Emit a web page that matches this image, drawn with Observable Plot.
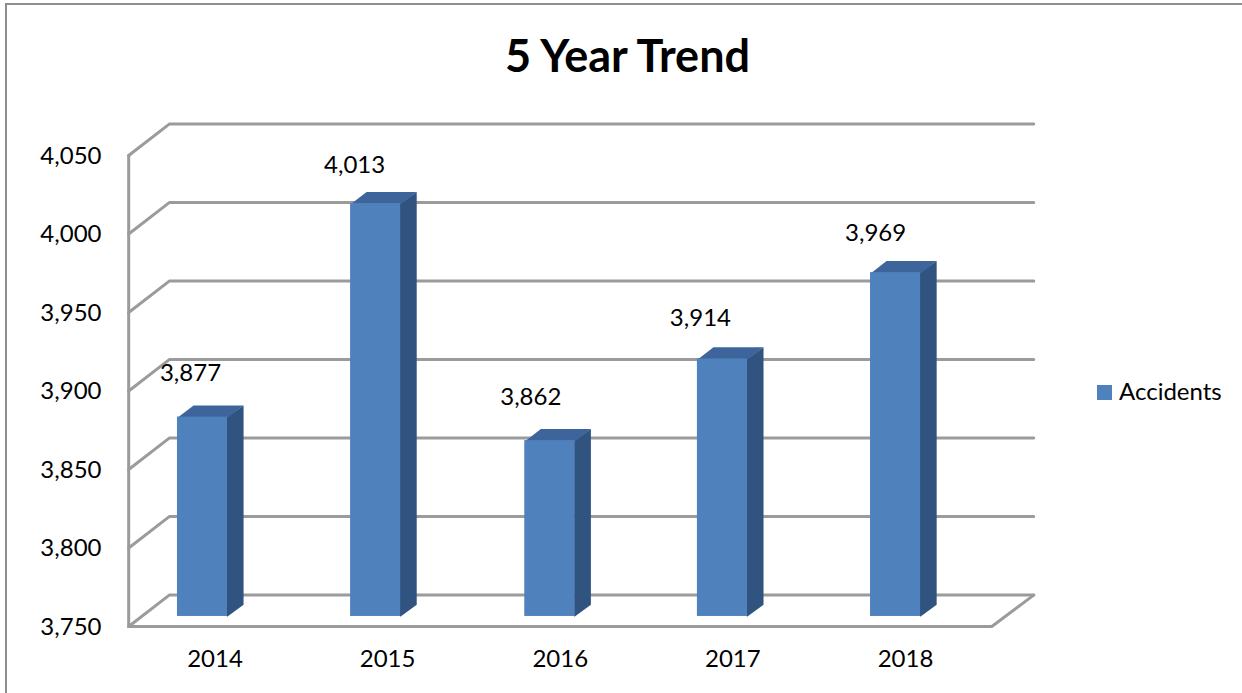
<!DOCTYPE html>
<html>
<head>
<meta charset="utf-8">
<script src="https://cdn.jsdelivr.net/npm/d3@7"></script>
<script src="https://cdn.jsdelivr.net/npm/@observablehq/plot@0.6"></script>
<style>
  html, body { margin: 0; padding: 0; background: #fff; overflow: hidden; }
  #page { position: relative; width: 1242px; height: 693px; font-family: Lato, sans-serif; color: #000; }
  #border { position: absolute; left: 5px; top: 3px; right: -4px; bottom: -4px; border-left: 2px solid #8e8e8e; border-top: 2px solid #8e8e8e; }
  #title { position: absolute; left: 0; width: 1255px; top: 28px; text-align: center; font-size: 45px; line-height: 54px; font-weight: 700; }
  #legend { position: absolute; left: 1097px; top: 379px; height: 26px; display: flex; align-items: center; font-size: 24px; white-space: nowrap; }
  #legend i { display: block; width: 15px; height: 15px; background: #4f81bd; margin-right: 7px; }
  #legend span { position: relative; top: -2px; }
  svg { position: absolute; left: 0; top: 0; background: transparent; }
</style>
</head>
<body>
<div id="page">
  <div id="border"></div>
  <div id="chart"></div>
  <div id="title">5 Year Trend</div>
  <div id="legend"><i></i><span>Accidents</span></div>
</div>
<script>
const years = [2014, 2015, 2016, 2017, 2018];
const accidents = [3877, 4013, 3862, 3914, 3969];
const yTicks = [3750, 3800, 3850, 3900, 3950, 4000, 4050];
const labelDx = [-12, -21, -19, -22, -20];
const labelDy = [-44, -38, -43, -41, -39];
const barNudge = [0, 0.003, 0.012, 0.012, 0.015];

// Projection of the pseudo-3D box, expressed in scale units
const wallStart = 2013.5, wallEnd = 2018.5;
const wallDepthX = 0.235, wallDepthY = 20;
const barHalf = 0.145, barShift = -0.0725, barLift = 6.4;
const barDepthX = 0.093, barDepthY = 7.4;
const overlapX = 0.004, overlapY = 0.5;

const gridPaths = yTicks.flatMap(v => [
  {v, x: wallStart, y: v},
  {v, x: wallStart + wallDepthX, y: v + wallDepthY},
  {v, x: wallEnd + wallDepthX + 0.008, y: v + wallDepthY}
]);
const floorPath = [
  {x: wallStart, y: 3750}, {x: wallEnd, y: 3750},
  {x: wallEnd + wallDepthX + 0.008, y: 3750 + wallDepthY}
];
const wallPath = [{x: wallStart, y: 3750}, {x: wallStart, y: 4050}];

const bars = years.map((year, i) => ({
  year, value: accidents[i],
  x1: year + barShift + barNudge[i] - barHalf, x2: year + barShift + barNudge[i] + barHalf,
  y1: 3750 + barLift, y2: accidents[i] + barLift
}));
const sides = bars.flatMap(b => [
  {year: b.year, x: b.x2 - overlapX, y: b.y1},
  {year: b.year, x: b.x2, y: b.y1},
  {year: b.year, x: b.x2 + barDepthX, y: b.y1 + barDepthY},
  {year: b.year, x: b.x2 + barDepthX, y: b.y2 + barDepthY},
  {year: b.year, x: b.x2, y: b.y2},
  {year: b.year, x: b.x2 - overlapX, y: b.y2}
]);
const tops = bars.flatMap(b => [
  {year: b.year, x: b.x1, y: b.y2 - overlapY},
  {year: b.year, x: b.x2, y: b.y2 - overlapY},
  {year: b.year, x: b.x2 + barDepthX, y: b.y2 + barDepthY},
  {year: b.year, x: b.x1 + barDepthX, y: b.y2 + barDepthY}
]);

const gridStyle = {stroke: "#9b9b9b", strokeWidth: 3, curve: "linear", strokeLinejoin: "miter"};

const chart = Plot.plot({
  width: 1242,
  height: 693,
  marginLeft: 127,
  marginRight: 0,
  marginTop: 0,
  marginBottom: 67,
  style: {fontFamily: "Lato, sans-serif", background: "transparent", overflow: "visible"},
  x: {domain: [2014, 2018], range: [214.5, 905]},
  y: {domain: [3750, 4050], range: [626, 155]},
  marks: [
    Plot.line(gridPaths, {x: "x", y: "y", z: "v", ...gridStyle}),
    Plot.line(floorPath, {x: "x", y: "y", ...gridStyle}),
    Plot.line(wallPath, {x: "x", y: "y", ...gridStyle}),
    Plot.line(sides, {x: "x", y: "y", z: "year", fill: "#30537f", stroke: "none"}),
    Plot.line(tops, {x: "x", y: "y", z: "year", fill: "#3d659b", stroke: "none"}),
    Plot.rect(bars, {x1: "x1", x2: "x2", y1: "y1", y2: "y2", fill: "#4f81bd"}),
    ...bars.map((b, i) => Plot.text([b], {
      x: d => d.x1 + barHalf,
      y: "y2",
      text: d => d3.format(",")(d.value),
      dx: labelDx[i],
      dy: labelDy[i],
      fontSize: 24,
      fill: "#000"
    })),
    Plot.axisY({ticks: yTicks, tickSize: 0, tickPadding: 26, dy: 0.5, tickFormat: d3.format(","), fontSize: 24, label: null, stroke: "none", fill: "#000"}),
    Plot.axisX({ticks: years, tickSize: 0, tickPadding: 23, tickFormat: d => String(d), fontSize: 24, label: null, stroke: "none", fill: "#000"})
  ]
});
document.getElementById("chart").appendChild(chart);
</script>
</body>
</html>
